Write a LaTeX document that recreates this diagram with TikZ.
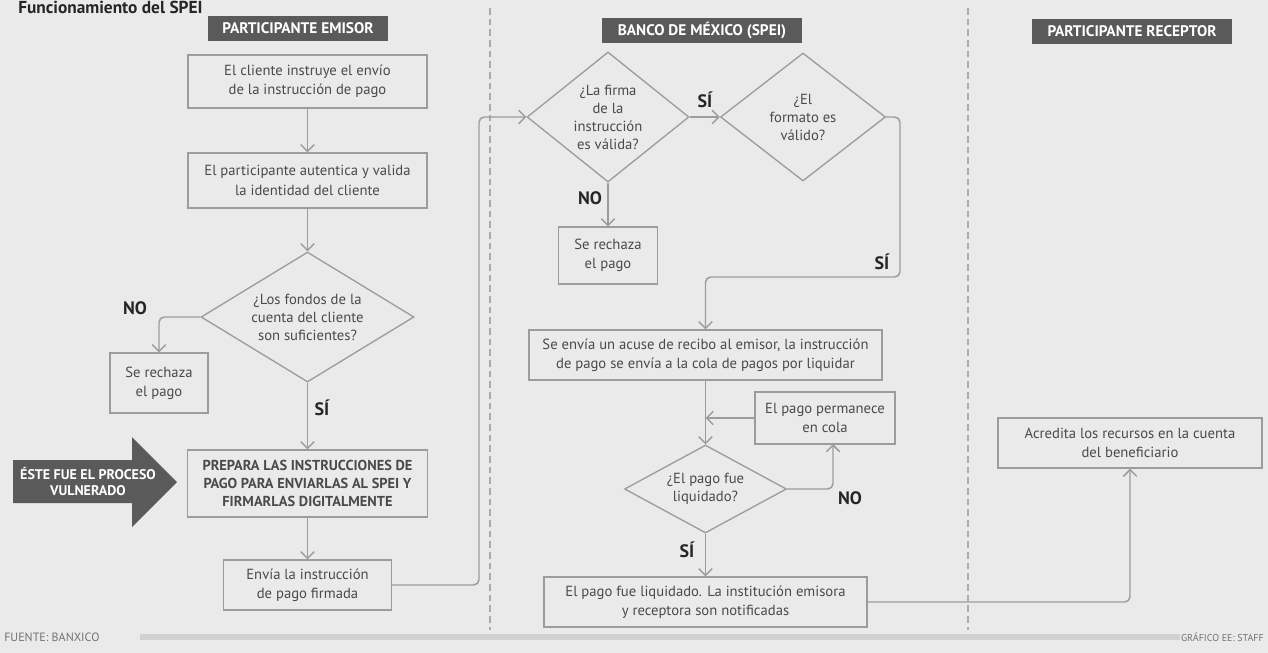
\documentclass[tikz,border=0pt]{standalone}
\usepackage{fontspec}
\setmainfont{PT Sans}
\usetikzlibrary{shapes.geometric,arrows.meta}
\definecolor{bg}{HTML}{EAEAEA}
\definecolor{edge}{HTML}{9C9C9C}
\definecolor{txt}{HTML}{4A4A4A}
\definecolor{dark}{HTML}{5A5A5A}
\begin{document}
\begin{tikzpicture}[x=0.75pt,y=-0.75pt,
 wh/.style 2 args={minimum width=#1*0.75pt, minimum height=#2*0.75pt},
 box/.style={draw=edge, line width=1pt, fill=bg, text=txt, align=center, inner sep=0pt, font=\fontsize{11}{14.5}\selectfont},
 dia/.style={diamond, draw=edge, line width=1pt, fill=bg, text=txt, align=center, inner sep=-4pt, font=\fontsize{11}{13.5}\selectfont},
 hdr/.style={fill=dark, text=white, inner sep=0pt, font=\bfseries\fontsize{11.5}{13}\selectfont},
 lbl/.style={font=\bfseries\fontsize{13.5}{15}\selectfont, text=black!85, inner sep=1pt},
 conn/.style={draw=edge, line width=1.1pt, rounded corners=4pt, -{Straight Barb[length=5pt,width=10pt]}},
 lane/.style={draw=edge!85, line width=1pt, dash pattern=on 5pt off 3pt},
 foot/.style={text=black!55, inner sep=0pt}
]
\useasboundingbox (0,0) rectangle (1268,653);
\fill[bg] (0,0) rectangle (1268,653);

% title
\node[anchor=base west, inner sep=0pt, text=black!85, font=\bfseries\fontsize{13}{15}\selectfont] (title) at (18,13.5) {Funcionamiento del SPEI};

% lane separators
\draw[lane] (490,8) -- (490,630);
\draw[lane] (968,8) -- (968,630);

% footer
\draw[line width=4pt, draw=black!18] (140,637) -- (1180,637);
\node[foot, anchor=west, font=\fontsize{9}{10}\selectfont] (fuente) at (4,637) {FUENTE: BANXICO};
\node[foot, anchor=east, font=\fontsize{7.5}{9}\selectfont] (grafico) at (1264,637) {GRÁFICO EE: STAFF};

% headers
\node[hdr, wh={180}{25}] (h1) at (298,28.5) {PARTICIPANTE EMISOR};
\node[hdr, wh={200}{25}] (h2) at (702,30.5) {BANCO DE MÉXICO (SPEI)};
\node[hdr, wh={200}{25}] (h3) at (1132,31.5) {PARTICIPANTE RECEPTOR};

% emisor column
\node[box, wh={239}{53}] (b1) at (307.5,81.5) {El cliente instruye el envío\\de la instrucción de pago};
\node[box, wh={239}{55}] (b2) at (307.5,180.5) {El participante autentica y valida\\la identidad del cliente};
\node[dia, aspect=1.64, wh={213}{130}] (d3) at (307.5,317) {¿Los fondos de la\\cuenta del cliente\\son suficientes?};
\node[box, wh={98}{60}] (r1) at (159,383) {Se rechaza\\el pago};
\node[box, wh={240}{67}, font=\bfseries\fontsize{10.8}{13.5}\selectfont] (prep) at (307.5,483.5) {PREPARA LAS INSTRUCCIONES DE\\PAGO PARA ENVIARLAS AL SPEI Y\\FIRMARLAS DIGITALMENTE};
\node[box, wh={168}{50}] (env) at (307.5,585) {Envía la instrucción\\de pago firmada};

% vulnerable arrow
\fill[dark] (13,460) -- (132,460) -- (132,437) -- (177,482) -- (132,527) -- (132,503) -- (13,503) -- cycle;
\node[text=white, align=center, inner sep=0pt, font=\bfseries\fontsize{10.5}{12}\selectfont] (vuln) at (88,482) {ÉSTE FUE EL PROCESO\\VULNERADO};

% banco column
\node[dia, aspect=1.25, wh={162}{130}] (d1) at (608,117) {¿La firma\\de la\\instrucción\\es válida?};
\node[dia, aspect=1.29, wh={165}{128}] (d2) at (803,117) {¿El\\formato es\\válido?};
\node[box, wh={99}{57}] (r2) at (608,255.5) {Se rechaza\\el pago};
\node[box, wh={353}{50}] (acuse) at (705.5,355) {Se envía un acuse de recibo al emisor, la instrucción\\de pago se envía a la cola de pagos por liquidar};
\node[box, wh={140}{52}] (perm) at (825,418) {El pago permanece\\en cola};
\node[dia, aspect=1.84, wh={162}{88}] (d4) at (705.5,489) {¿El pago fue\\liquidado?};
\node[box, wh={323}{50}] (liq) at (705.5,602) {El pago fue liquidado. La institución emisora\\y receptora son notificadas};

% receptor column
\node[box, wh={264}{50}] (acred) at (1130,443) {Acredita los recursos en la cuenta\\del beneficiario};

% helper coordinates
\coordinate (cA) at (479,117);
\coordinate (cB) at (900,277);
\coordinate (cC) at (705.5,418);
\coordinate (cD) at (833,444);

% connectors
\draw[conn] (b1) -- (b2);
\draw[conn] (b2) -- (d3);
\draw[conn] (d3.west) -| (r1.north);
\draw[conn] (d3.south) -- (prep.north);
\draw[conn] (prep) -- (env);
\draw[conn] (env.east) -| (cA) -- (d1.west);
\draw[conn] (d1.east) -- (d2.west);
\draw[conn] (d1.south) -- (r2.north);
\draw[conn] (d2.east) -| (cB) -| (acuse.north);
\draw[conn] (acuse.south) -- (d4.north);
\draw[conn] (perm.west) -- (cC);
\draw[conn] (d4.east) -| (cD);
\draw[conn] (d4.south) -- (liq.north);
\draw[conn] (liq.east) -| (acred.south);

% labels
\node[lbl] (no1) at (135,308) {NO};
\node[lbl] (si1) at (322,408) {SÍ};
\node[lbl] (si2) at (705,100) {SÍ};
\node[lbl] (no2) at (590,198) {NO};
\node[lbl] (si3) at (882,262) {SÍ};
\node[lbl] (no3) at (850,498) {NO};
\node[lbl] (si4) at (687,550) {SÍ};
\end{tikzpicture}
\end{document}
